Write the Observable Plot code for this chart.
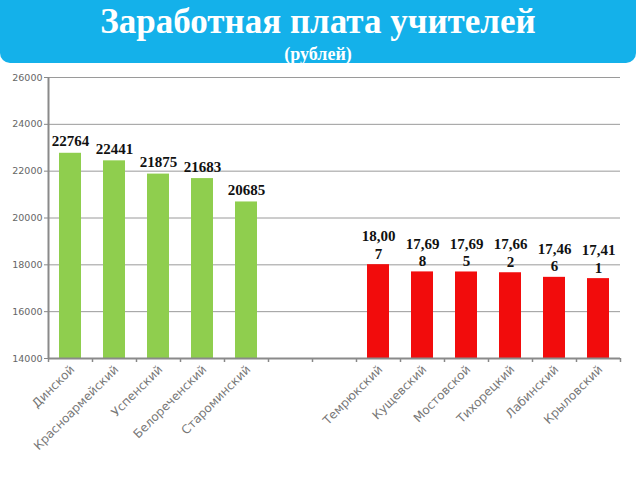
<!DOCTYPE html>
<html>
<head>
<meta charset="utf-8">
<script src="https://cdn.jsdelivr.net/npm/d3@7"></script>
<script src="https://cdn.jsdelivr.net/npm/@observablehq/plot@0.6"></script>
<style>
  html, body { margin: 0; padding: 0; background: #fff; width: 640px; height: 480px; overflow: hidden; }
  #banner {
    width: 636px; height: 63px; background: #14b1ea; color: #fff;
    border-radius: 0 0 10px 10px; text-align: center;
    font-family: "Liberation Serif", "Times New Roman", serif; font-weight: bold;
    box-sizing: border-box; padding-top: 3px;
  }
  #title { font-size: 35px; line-height: 38px; }
  #subtitle { font-size: 18px; line-height: 20px; margin-top: 3px; }
  #chart { margin-top: 2px; }
</style>
</head>
<body>
<div id="banner">
  <div id="title">Заработная плата учителей</div>
  <div id="subtitle">(рублей)</div>
</div>
<div id="chart"></div>
<script>
const categories = ["Динской", "Красноармейский", "Успенский", "Белореченский", "Староминский", " ", "  ",
  "Темрюкский", "Кущевский", "Мостовской", "Тихорецкий", "Лабинский", "Крыловский"];
const greenNames = ["Динской", "Красноармейский", "Успенский", "Белореченский", "Староминский"];
const greenValues = [22764, 22441, 21875, 21683, 20685];
const greenLabels = ["22764", "22441", "21875", "21683", "20685"];
const redNames = ["Темрюкский", "Кущевский", "Мостовской", "Тихорецкий", "Лабинский", "Крыловский"];
const redValues = [18007, 17698, 17695, 17662, 17466, 17411];
const redLabels = ["18,00\n7", "17,69\n8", "17,69\n5", "17,66\n2", "17,46\n6", "17,41\n1"];
const yTicks = [14000, 16000, 18000, 20000, 22000, 24000, 26000];

const green = greenNames.map((n, i) => ({name: n, value: greenValues[i], label: greenLabels[i]}));
const red = redNames.map((n, i) => ({name: n, value: redValues[i], label: redLabels[i]}));

const mL = 48, mR = 20, mT = 12, mB = 122;
const step = (640 - mL - mR) / categories.length;

const plot = Plot.plot({
  width: 640,
  height: 415,
  marginLeft: mL,
  marginRight: mR,
  marginTop: mT,
  marginBottom: mB,
  x: {domain: categories, paddingInner: 0.5, paddingOuter: 0.25, align: 0.5, label: null},
  y: {domain: [14000, 26000], label: null},
  style: {fontFamily: "'DejaVu Sans', sans-serif", color: "#777"},
  marks: [
    Plot.ruleY(yTicks, {stroke: "#9a9a9a", strokeWidth: 1}),
    Plot.barY(green, {x: "name", y1: 14000, y2: "value", fill: "#8fce4e"}),
    Plot.barY(red, {x: "name", y1: 14000, y2: "value", fill: "#f20c0c"}),
    Plot.text(green, {x: "name", y: "value", text: "label", dy: -7, lineAnchor: "bottom",
      fontFamily: "'Liberation Serif', serif", fontWeight: "bold", fontSize: 15, fill: "#111"}),
    Plot.text(red, {x: "name", y: "value", text: "label", dy: -6, lineAnchor: "bottom", lineHeight: 1.15,
      fontFamily: "'Liberation Serif', serif", fontWeight: "bold", fontSize: 15, fill: "#111"}),
    Plot.ruleX(categories, {x: d => d, y1: 14000, y2: 14000, dx: -step / 2, insetBottom: -4, stroke: "#888", strokeWidth: 1.5}),
    Plot.ruleX([categories[categories.length - 1]], {x: d => d, y1: 14000, y2: 14000, dx: step / 2, insetBottom: -4, stroke: "#888", strokeWidth: 1.5}),
    Plot.ruleY([14000], {stroke: "#8a8a8a", strokeWidth: 2}),
    Plot.ruleX([categories[0]], {x: d => d, y1: 14000, y2: 26000, dx: -step / 2, stroke: "#8a8a8a", strokeWidth: 2}),
    Plot.axisY({ticks: yTicks, tickFormat: d => String(d), tickSize: 4, fontSize: 9.5, stroke: "#888", fill: "#666", tickPadding: 2}),
    Plot.axisX({tickSize: 0, tickRotate: -45, fontSize: 12, fill: "#777", tickPadding: 9, dx: 2})
  ]
});
document.getElementById("chart").appendChild(plot);
</script>
</body>
</html>
